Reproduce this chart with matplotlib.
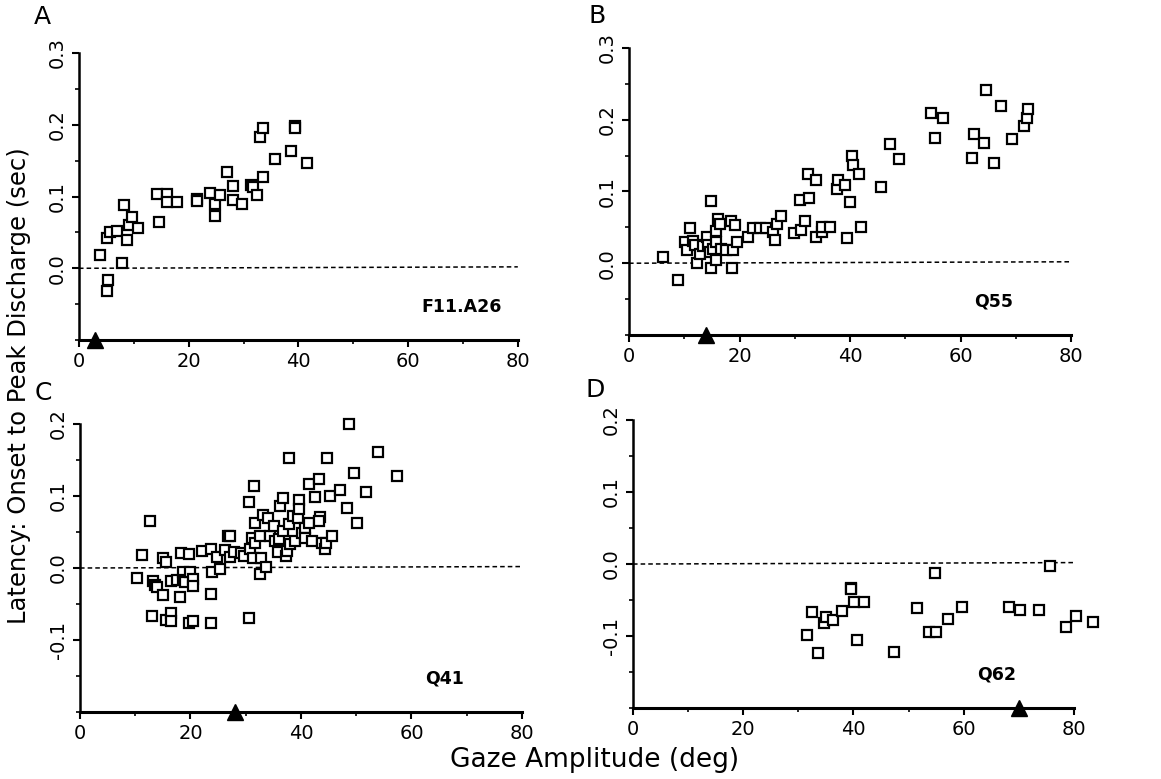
import matplotlib
matplotlib.use("Agg")
import matplotlib.pyplot as plt
from matplotlib.ticker import MultipleLocator, FixedLocator

# panel A: F11.A26
a_x = [3.8, 5.2, 5.6, 6.9, 7.8, 5.3, 5.2, 8.2, 8.8, 9.1, 9.7, 10.8, 14.3, 14.6, 16.1, 16.0,
       17.9, 21.5, 21.5, 23.9, 24.8, 24.8, 25.7, 26.9, 28.0, 28.0, 29.8, 31.3, 31.7, 32.5,
       33.0, 33.6, 33.6, 35.7, 38.7, 39.3, 39.3, 41.6]
a_y = [0.018, 0.042, 0.051, 0.052, 0.007, -0.016, -0.032, 0.088, 0.039, 0.060, 0.072, 0.056,
       0.104, 0.064, 0.104, 0.093, 0.093, 0.096, 0.094, 0.105, 0.090, 0.073, 0.102, 0.134,
       0.115, 0.095, 0.090, 0.116, 0.113, 0.102, 0.183, 0.195, 0.127, 0.153, 0.163, 0.198,
       0.195, 0.147]

# panel B: Q55
b_x = [6.2, 8.8, 11.0, 10.1, 10.5, 11.6, 11.9, 12.3, 12.8, 13.3, 14.2, 14.3, 14.9, 14.8,
       14.6, 15.2, 15.7, 15.7, 15.8, 16.1, 16.4, 16.7, 17.6, 18.4, 19.2, 18.7, 18.9, 19.6,
       21.6, 22.5, 23.7, 24.8, 26.0, 26.4, 26.8, 27.5, 29.9, 30.9, 31.2, 31.8, 32.6, 32.4,
       33.8, 33.8, 34.9, 35.0, 36.3, 37.6, 37.9, 39.1, 39.4, 40.0, 40.3, 40.6, 41.7, 42.0,
       45.6, 47.3, 48.9, 54.7, 55.4, 56.9, 62.1, 62.5, 64.2, 64.7, 66.0, 67.4, 69.4, 71.4,
       72.0, 72.2]
b_y = [0.008, -0.024, 0.049, 0.029, 0.018, 0.031, 0.025, 0.000, 0.013, 0.024, 0.037, 0.025,
       0.087, -0.007, 0.015, 0.020, 0.029, 0.045, 0.004, 0.062, 0.055, 0.020, 0.019, 0.059,
       0.053, -0.007, 0.019, 0.029, 0.037, 0.049, 0.049, 0.049, 0.044, 0.033, 0.055, 0.066,
       0.042, 0.088, 0.047, 0.059, 0.091, 0.125, 0.116, 0.036, 0.043, 0.050, 0.050, 0.104,
       0.116, 0.109, 0.035, 0.085, 0.150, 0.137, 0.125, 0.051, 0.106, 0.166, 0.145, 0.210,
       0.174, 0.202, 0.147, 0.180, 0.167, 0.242, 0.140, 0.219, 0.173, 0.191, 0.202, 0.215]

# panel C: Q41
c_x = [12.6, 11.2, 10.4, 13.3, 13.6, 13.9, 15.0, 15.6, 15.1, 13.0, 15.6, 16.4, 16.4, 16.4,
       17.5, 18.1, 18.3, 18.6, 18.7, 19.0, 19.8, 19.9, 20.4, 20.5, 19.8, 20.5, 22.0, 23.7,
       23.7, 23.7, 23.9, 24.8, 25.4, 26.3, 26.7, 27.1, 27.2, 27.8, 29.1, 29.7, 30.8, 30.5,
       30.5, 31.5, 31.4, 31.1, 31.7, 31.7, 32.5, 32.8, 32.5, 33.2, 34.1, 33.7, 34.4, 35.2,
       35.3, 35.8, 36.1, 36.2, 36.8, 36.8, 37.3, 37.5, 37.9, 37.9, 38.0, 38.6, 38.9, 39.4,
       39.7, 39.7, 40.2, 40.8, 40.8, 41.4, 41.4, 42.0, 42.6, 43.2, 43.4, 43.2, 43.8, 44.4,
       44.6, 44.7, 45.2, 45.6, 47.1, 48.4, 48.6, 49.6, 50.2, 51.8, 54.0, 57.4]
c_y = [0.065, 0.018, -0.014, -0.018, -0.024, -0.026, 0.014, 0.009, -0.037, -0.067, -0.072,
       -0.062, -0.074, -0.018, -0.017, -0.040, 0.021, -0.006, -0.016, -0.019, 0.020, -0.006,
       -0.015, -0.025, -0.077, -0.073, 0.024, 0.026, -0.036, -0.076, -0.006, 0.015, -0.002,
       0.025, 0.044, 0.015, 0.044, 0.022, 0.021, 0.016, 0.027, 0.091, -0.069, 0.114, 0.014,
       0.042, 0.035, 0.063, 0.044, 0.014, -0.008, 0.074, 0.070, 0.002, 0.044, 0.058, 0.037,
       0.022, 0.040, 0.086, 0.097, 0.051, 0.016, 0.023, 0.153, 0.061, 0.034, 0.072, 0.037,
       0.070, 0.095, 0.082, 0.049, 0.056, 0.041, 0.116, 0.063, 0.037, 0.098, 0.123, 0.071,
       0.065, 0.035, 0.026, 0.035, 0.153, 0.100, 0.044, 0.108, 0.083, 0.200, 0.132, 0.062,
       0.105, 0.161, 0.128]

# panel D: Q62
d_x = [31.6, 32.5, 33.6, 34.7, 35.1, 36.3, 37.9, 39.5, 39.5, 40.1, 40.7, 41.9, 47.4, 51.6,
       53.7, 54.9, 54.8, 57.2, 59.7, 68.3, 70.3, 73.7, 75.6, 78.5, 80.3, 83.5]
d_y = [-0.099, -0.066, -0.123, -0.082, -0.074, -0.078, -0.065, -0.033, -0.035, -0.053,
       -0.106, -0.053, -0.122, -0.061, -0.094, -0.094, -0.013, -0.077, -0.060, -0.060,
       -0.064, -0.064, -0.003, -0.088, -0.072, -0.080]

letters = ["A", "B", "C", "D"]
cells = ["F11.A26", "Q55", "Q41", "Q62"]
triangle_x = [3, 14, 28, 70]
ylims = [(-0.1, 0.3), (-0.1, 0.3), (-0.2, 0.2), (-0.2, 0.2)]
yticks = [[0.0, 0.1, 0.2, 0.3], [0.0, 0.1, 0.2, 0.3], [-0.1, 0.0, 0.1, 0.2], [-0.1, 0.0, 0.1, 0.2]]
xs = [a_x, b_x, c_x, d_x]
ys = [a_y, b_y, c_y, d_y]

fig = plt.figure(figsize=(11.61, 7.79), dpi=100)
positions = [[0.068, 0.5635, 0.378, 0.3684],
             [0.5418, 0.570, 0.3807, 0.3684],
             [0.0689, 0.086, 0.3807, 0.3697],
             [0.5452, 0.0911, 0.3798, 0.3697]]
letter_pos = [(42, 17), (597, 16), (43, 393), (595, 390)]  # pixels from top-left

for i in range(4):
    ax = fig.add_axes(positions[i])
    lo, hi = ylims[i]
    ax.plot([0, 80], [0, 0.002], color="black", linestyle=(0, (3, 2)), linewidth=1.1)
    ax.plot(xs[i], ys[i], linestyle="none", marker="s", markersize=6.5,
            markerfacecolor="white", markeredgecolor="black", markeredgewidth=1.6,
            clip_on=False, zorder=3)
    ax.plot([triangle_x[i]], [lo], linestyle="none", marker="^", markersize=11,
            color="black", clip_on=False, zorder=4)
    ax.set_xlim(0, 80)
    ax.set_ylim(lo, hi)
    ax.spines["top"].set_visible(False)
    ax.spines["right"].set_visible(False)
    ax.spines["left"].set_linewidth(1.8)
    ax.spines["bottom"].set_linewidth(2.2)
    ax.xaxis.set_minor_locator(MultipleLocator(10))
    ax.yaxis.set_major_locator(FixedLocator(yticks[i]))
    ax.yaxis.set_minor_locator(MultipleLocator(0.05))
    ax.tick_params(which="major", direction="out", length=5, width=1.5, labelsize=14)
    ax.tick_params(which="minor", direction="out", length=3, width=1.2)
    ax.set_xticks([0, 20, 40, 60, 80])
    ax.set_xticklabels(["0", "20", "40", "60", "80"])
    ax.set_yticklabels(["%.1f" % v for v in yticks[i]], rotation=90, va="center")
    ax.text(62.4, lo + 0.046, cells[i], fontsize=12.5, fontweight="bold",
            ha="left", va="center")
    px, py = letter_pos[i]
    fig.text(px / 1161, 1 - py / 779, letters[i], fontsize=18, ha="center", va="center")

fig.text(0.0165, 0.505, "Latency: Onset to Peak Discharge (sec)", rotation=90,
         fontsize=17.5, ha="center", va="center")
fig.text(0.5125, 0.024, "Gaze Amplitude (deg)", fontsize=19, ha="center", va="center")

fig.savefig("out.png", dpi=100)
